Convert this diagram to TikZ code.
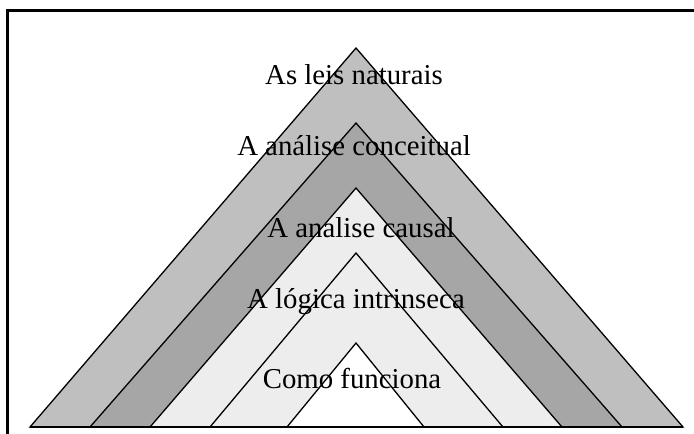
\documentclass[tikz,border=0pt]{standalone}
\usepackage{fontspec}
\setmainfont{Liberation Serif}
\begin{document}
\begin{tikzpicture}[x=1pt,y=-1pt,
  layer/.style={draw=black,line width=1.3pt,line join=miter},
  label/.style={font=\fontsize{28.8}{32}\selectfont,inner sep=0pt,anchor=base}]
\useasboundingbox (0,0) rectangle (694,434);
\fill[white] (0,0) rectangle (694,434);
% nested triangles, outermost first
\filldraw[layer,fill=black!25] (30,427) -- (356,48)  -- (683,427) -- cycle;
\filldraw[layer,fill=black!35] (90,427) -- (356,123) -- (622,427) -- cycle;
\filldraw[layer,fill=black!7]  (150,427) -- (356,188) -- (562,427) -- cycle;
\filldraw[layer,fill=black!7]  (210,427) -- (356,253) -- (503,427) -- cycle;
\filldraw[layer,fill=white]    (287,427) -- (356,343) -- (424,427) -- cycle;
\draw[line width=2pt] (30,427) -- (683,427);
% labels
\node[label] (t1) at (354,84)  {As leis naturais};
\node[label] (t2) at (354,155) {A análise conceitual};
\node[label] (t3) at (361,237) {A analise causal};
\node[label] (t4) at (356,308) {A lógica intrinseca};
\node[label] (t5) at (352,388) {Como funciona};
% frame
\draw[line width=3pt] (7,434) -- (7,10) -- (694,10);
\end{tikzpicture}
\end{document}
